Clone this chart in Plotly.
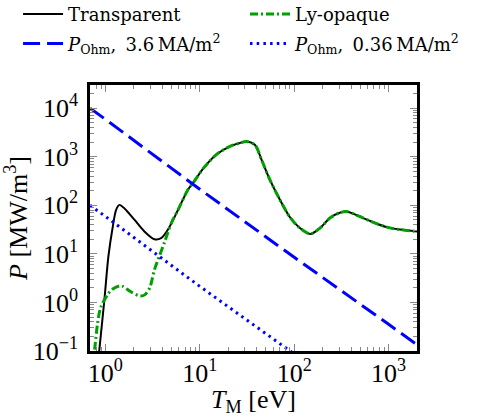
import plotly.graph_objects as go

# Radiated power, transparent plasma (T in eV, P in MW/m^3)
tr_T = [0.85, 0.977, 1.076, 1.197, 1.297, 1.41, 1.585, 2.04, 2.59, 3.31, 3.89, 4.57,
        5.89, 7.48, 8.5, 10.9, 15.1, 20.9, 26.3, 31.4, 38.5, 45.3, 55.5, 70.8, 90.6,
        115, 148, 188, 240, 309, 367, 457, 646, 955, 1318, 2000]
tr_P = [0.079, 1.15, 8.9, 36, 80, 102, 87, 50, 29, 20, 21, 31,
        81, 209, 290, 575, 1120, 1640, 1900, 2065, 1740, 850, 330, 129, 56,
        34, 25.7, 34, 55, 71, 74, 63, 47, 35.5, 31.6, 28.8]

# Radiated power with Lyman lines opaque; joins the transparent curve above ~5.9 eV
ly_T_low = [0.741, 0.776, 0.828, 0.891, 1.072, 1.20, 1.41, 1.53, 1.86, 2.34, 2.63,
            2.95, 3.31, 3.77, 4.23, 5.01]
ly_P_low = [0.05, 0.126, 0.38, 0.79, 1.51, 1.9, 2.19, 2.14, 1.66, 1.35, 1.45,
            2.0, 4.7, 9.5, 17.4, 43.6]
JOIN = 12  # index of 5.89 eV in tr_T
ly_T = ly_T_low + tr_T[JOIN:]
ly_P = ly_P_low + tr_P[JOIN:]

# Ohmic heating power for two current densities
ohm_T = [0.687, 1, 10, 100, 1000, 2000]
ohm_P_hi = [1.0e4, 5.9e3, 214, 8.5, 0.355, 0.135]
ohm_P_lo = [100, 59, 2.14, 0.085, 0.00355, 0.00135]

x_ticks = [1, 10, 100, 1000]
x_labels = ["10<sup>0</sup>", "10<sup>1</sup>", "10<sup>2</sup>", "10<sup>3</sup>"]
y_ticks = [0.1, 1, 10, 100, 1000, 10000]
y_labels = ["10<sup>\u22121</sup>", "10<sup>0</sup>", "10<sup>1</sup>",
            "10<sup>2</sup>", "10<sup>3</sup>", "10<sup>4</sup>"]

SERIF = "Liberation Serif"
LEG_FONT = "DejaVu Serif"
GREEN = "rgb(0,160,0)"
BLUE = "rgb(0,0,255)"

fig = go.Figure()
fig.add_trace(go.Scatter(x=tr_T, y=tr_P, mode="lines", name="Transparent",
                         legend="legend", legendgroup="a",
                         line=dict(color="black", width=2, shape="spline", smoothing=0.8)))
fig.add_trace(go.Scatter(x=ly_T, y=ly_P, mode="lines", name="Ly-opaque",
                         legend="legend2", legendgroup="b",
                         line=dict(color=GREEN, width=3, dash="8px,3px,2px,3px",
                                   shape="spline", smoothing=0.8)))
fig.add_trace(go.Scatter(x=ohm_T, y=ohm_P_hi, mode="lines",
                         name="<i>P</i><sub>Ohm</sub>,\u2009 3.6\u2009MA/m<sup>2</sup>",
                         legend="legend", legendgroup="c",
                         line=dict(color=BLUE, width=3, dash="17px,7px")))
fig.add_trace(go.Scatter(x=ohm_T, y=ohm_P_lo, mode="lines",
                         name="<i>P</i><sub>Ohm</sub>,\u2009 0.36\u2009MA/m<sup>2</sup>",
                         legend="legend2", legendgroup="d",
                         line=dict(color=BLUE, width=3, dash="2.5px,4.2px")))

def minor_vals(lo, hi):
    return [m * 10 ** e for e in range(lo, hi) for m in range(2, 10)]

axis_common = dict(
    type="log", showgrid=False, zeroline=False,
    showline=True, linecolor="black", linewidth=2.5, mirror="ticks",
    ticks="inside", ticklen=7, tickwidth=1, tickcolor="#888",
    tickfont=dict(family=SERIF, size=26, color="black"),
)

fig.update_xaxes(
    **axis_common,
    range=[-0.163, 3.301],
    tickmode="array", tickvals=x_ticks, ticktext=x_labels,
    ticklabelstandoff=-3,
    minor=dict(ticks="inside", ticklen=4, tickwidth=1, tickcolor="#888",
               tickmode="array", tickvals=minor_vals(-1, 4), showgrid=False),
    title=dict(text="<i>T</i><sub>M</sub> [eV]", font=dict(family=SERIF, size=26, color="black"),
               standoff=8),
)
fig.update_yaxes(
    **axis_common,
    range=[-1, 4.477],
    tickmode="array", tickvals=y_ticks, ticktext=y_labels,
    ticklabelstandoff=4,
    minor=dict(ticks="inside", ticklen=4, tickwidth=1, tickcolor="#888",
               tickmode="array", tickvals=minor_vals(-1, 5), showgrid=False),
    title=dict(text="<i>P</i> [MW/m<sup>3</sup>]", font=dict(family=SERIF, size=26, color="black"),
               standoff=0),
)

legend_style = dict(orientation="v", xanchor="left", yanchor="top",
                    font=dict(family=LEG_FONT, size=18, color="black"),
                    bgcolor="rgba(0,0,0,0)", itemwidth=40, tracegroupgap=3)

fig.update_layout(
    width=486, height=417,
    margin=dict(l=90, r=69, t=85, b=66, autoexpand=False),
    paper_bgcolor="white", plot_bgcolor="white",
    showlegend=True,
    legend=dict(x=-0.22, y=1.335, **legend_style),
    legend2=dict(x=0.474, y=1.335, **legend_style),
)

fig.write_html("out.html")
